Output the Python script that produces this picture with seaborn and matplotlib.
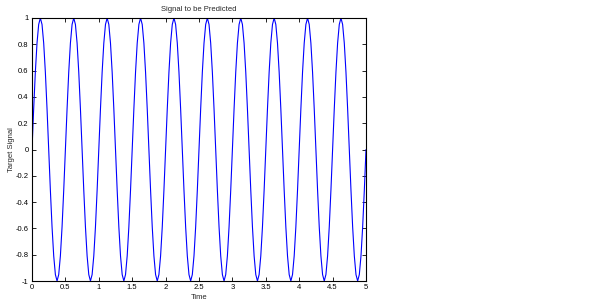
import numpy as np
import pandas as pd
import matplotlib
matplotlib.use("Agg")
import matplotlib.pyplot as plt
import seaborn as sns

# Sample times (0 to 5 s, 201 samples)
time = np.linspace(0.0, 5.0, 201)

# Target signal values (10 cycles, 20 samples per cycle)
target = [
    0.0, 0.309, 0.588, 0.809, 0.951, 1.0, 0.951, 0.809, 0.588, 0.309, 0.0, -0.309, -0.588, -0.809, -0.951, -1.0, -0.951, -0.809, -0.588, -0.309,
    0.0, 0.309, 0.588, 0.809, 0.951, 1.0, 0.951, 0.809, 0.588, 0.309, 0.0, -0.309, -0.588, -0.809, -0.951, -1.0, -0.951, -0.809, -0.588, -0.309,
    0.0, 0.309, 0.588, 0.809, 0.951, 1.0, 0.951, 0.809, 0.588, 0.309, 0.0, -0.309, -0.588, -0.809, -0.951, -1.0, -0.951, -0.809, -0.588, -0.309,
    0.0, 0.309, 0.588, 0.809, 0.951, 1.0, 0.951, 0.809, 0.588, 0.309, 0.0, -0.309, -0.588, -0.809, -0.951, -1.0, -0.951, -0.809, -0.588, -0.309,
    0.0, 0.309, 0.588, 0.809, 0.951, 1.0, 0.951, 0.809, 0.588, 0.309, 0.0, -0.309, -0.588, -0.809, -0.951, -1.0, -0.951, -0.809, -0.588, -0.309,
    0.0, 0.309, 0.588, 0.809, 0.951, 1.0, 0.951, 0.809, 0.588, 0.309, 0.0, -0.309, -0.588, -0.809, -0.951, -1.0, -0.951, -0.809, -0.588, -0.309,
    0.0, 0.309, 0.588, 0.809, 0.951, 1.0, 0.951, 0.809, 0.588, 0.309, 0.0, -0.309, -0.588, -0.809, -0.951, -1.0, -0.951, -0.809, -0.588, -0.309,
    0.0, 0.309, 0.588, 0.809, 0.951, 1.0, 0.951, 0.809, 0.588, 0.309, 0.0, -0.309, -0.588, -0.809, -0.951, -1.0, -0.951, -0.809, -0.588, -0.309,
    0.0, 0.309, 0.588, 0.809, 0.951, 1.0, 0.951, 0.809, 0.588, 0.309, 0.0, -0.309, -0.588, -0.809, -0.951, -1.0, -0.951, -0.809, -0.588, -0.309,
    0.0, 0.309, 0.588, 0.809, 0.951, 1.0, 0.951, 0.809, 0.588, 0.309, 0.0, -0.309, -0.588, -0.809, -0.951, -1.0, -0.951, -0.809, -0.588, -0.309,
    0.0,
]

x_ticks = [0, 0.5, 1, 1.5, 2, 2.5, 3, 3.5, 4, 4.5, 5]
x_tick_labels = ["0", "0.5", "1", "1.5", "2", "2.5", "3", "3.5", "4", "4.5", "5"]
y_ticks = [-1, -0.8, -0.6, -0.4, -0.2, 0, 0.2, 0.4, 0.6, 0.8, 1]
y_tick_labels = ["-1", "-0.8", "-0.6", "-0.4", "-0.2", "0", "0.2", "0.4", "0.6", "0.8", "1"]

df = pd.DataFrame({"Time": time, "Target Signal": target})

sns.set_style("ticks")
plt.rcParams["font.family"] = ["Liberation Sans", "DejaVu Sans"]
plt.rcParams["xtick.direction"] = "in"
plt.rcParams["ytick.direction"] = "in"

fig = plt.figure(figsize=(6.01, 3.08), dpi=100)
ax = fig.add_axes([32 / 601, 1 - 281 / 308, 334 / 601, 263 / 308])

sns.lineplot(data=df, x="Time", y="Target Signal", ax=ax, color="#0000ff", linewidth=0.8)

ax.set_xlim(0, 5)
ax.set_ylim(-1, 1)
ax.set_xticks(x_ticks)
ax.set_xticklabels(x_tick_labels)
ax.set_yticks(y_ticks)
ax.set_yticklabels(y_tick_labels)
ax.tick_params(axis="both", which="both", direction="in", length=3, width=0.6,
               labelsize=5.5, top=True, right=True, pad=2.5, colors="black")
for s in ax.spines.values():
    s.set_visible(True)
    s.set_linewidth(0.8)
    s.set_color("black")

ax.set_title("Signal to be Predicted", fontsize=5.5, pad=5)
ax.set_xlabel("Time", fontsize=5.5, labelpad=2)
ax.set_ylabel("Target Signal", fontsize=5.5, labelpad=0.5)

fig.savefig("out.png", dpi=100)
